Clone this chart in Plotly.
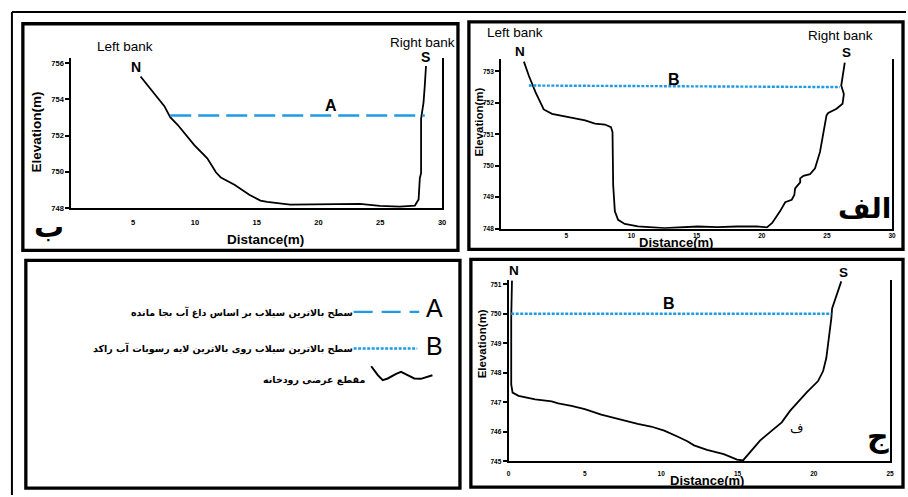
import plotly.graph_objects as go

W, H = 908, 497

# ---------------- data ----------------
# Panel "ب" cross-section
b_x = [5.6, 6.73, 7.53, 8.0, 8.6, 9.95, 11.0, 11.7, 12.1, 13.2, 14.4, 15.3, 15.85, 17.7, 19.9,
       23.35, 24.96, 26.57, 27.8, 28.1, 28.2, 28.3, 28.3, 28.4, 28.5, 28.6, 28.7]
b_y = [755.27, 754.30, 753.63, 753.02, 752.6, 751.47, 750.74, 749.97, 749.68, 749.28, 748.73,
       748.40, 748.33, 748.18, 748.18, 748.22, 748.11, 748.07, 748.13, 748.46, 749.64, 749.92,
       752.93, 753.3, 753.84, 754.76, 755.85]
b_flood_x = [8.0, 28.6]
b_flood_y = [753.11, 753.11]

# Panel "الف" cross-section
a_x = [1.75, 2.13, 2.64, 3.27, 3.91, 5.18, 6.45, 7.2, 7.97, 8.43, 8.55, 8.6, 8.73, 8.98, 9.49,
       10.5, 12.54, 15.08, 16.6, 18.1, 19.6, 20.4, 20.8, 21.4, 21.8, 22.3, 22.5, 22.56, 22.8,
       22.95, 22.95, 23.2, 23.7, 24.09, 24.47, 24.72, 24.97, 25.1, 25.74, 26.2, 26.3, 26.1,
       26.24, 26.37]
a_y = [753.31, 752.86, 752.34, 751.79, 751.65, 751.55, 751.44, 751.34, 751.31, 751.23, 751.07,
       749.39, 748.55, 748.28, 748.15, 748.07, 748.02, 748.07, 748.05, 748.07, 748.07, 748.04,
       748.18, 748.55, 748.84, 748.92, 749.07, 749.28, 749.42, 749.47, 749.6, 749.68, 749.73,
       749.92, 750.44, 751.07, 751.6, 751.68, 751.81, 751.97, 752.28, 752.55, 752.92, 753.28]
a_flood_x = [2.13, 26.0]
a_flood_y = [752.55, 752.50]

# Panel "ج" cross-section
c_x = [0.22, 0.17, 0.17, 0.26, 0.65, 1.74, 2.82, 3.25, 4.12, 4.99, 6.07, 7.16, 8.46, 9.33,
       10.2, 11.06, 11.71, 12.15, 13.0, 14.1, 14.97, 15.36, 15.84, 16.49, 17.25, 17.9, 18.44,
       18.87, 19.52, 20.28, 20.61, 20.82, 21.0, 21.15, 21.2, 21.35, 21.57, 21.8]
c_y = [751.14, 749.85, 747.61, 747.33, 747.22, 747.1, 747.03, 746.96, 746.88, 746.77, 746.58,
       746.43, 746.27, 746.18, 746.04, 745.84, 745.68, 745.54, 745.39, 745.24, 745.06, 745.03,
       745.31, 745.71, 746.04, 746.32, 746.71, 746.96, 747.33, 747.72, 748.06, 748.5, 749.18,
       749.85, 750.18, 750.41, 750.8, 751.1]
c_flood_x = [0.17, 21.15]
c_flood_y = [750.0, 750.0]

b_xticks = [5, 10, 15, 20, 25, 30]
b_yticks = [748, 750, 752, 754, 756]
a_xticks = [5, 10, 15, 20, 25, 30]
a_yticks = [748, 749, 750, 751, 752, 753]
c_xticks = [0, 5, 10, 15, 20, 25]
c_yticks = [745, 746, 747, 748, 749, 750, 751]

legend_a_text = "سطح بالاترین سیلاب بر اساس داغ آب بجا مانده"
legend_b_text = "سطح بالاترین سیلاب روی بالاترین لایه رسوبات آب راکد"
legend_c_text = "مقطع عرضی رودخانه"

# ---------------- helpers ----------------
def X(px):
    return px / W

def Y(py):
    return 1 - py / H

BLUE = "#1e9be4"
SANS = "Liberation Sans, Arial, sans-serif"
AR = "DejaVu Sans, sans-serif"

fig = go.Figure()

# profiles
fig.add_trace(go.Scatter(x=b_x, y=b_y, mode="lines", line=dict(color="black", width=1.8),
                         xaxis="x", yaxis="y", showlegend=False))
fig.add_trace(go.Scatter(x=b_flood_x, y=b_flood_y, mode="lines",
                         line=dict(color=BLUE, width=2.4, dash="21px,7px"),
                         xaxis="x", yaxis="y", showlegend=False))
fig.add_trace(go.Scatter(x=a_x, y=a_y, mode="lines", line=dict(color="black", width=1.8),
                         xaxis="x2", yaxis="y2", showlegend=False))
fig.add_trace(go.Scatter(x=a_flood_x, y=a_flood_y, mode="lines",
                         line=dict(color=BLUE, width=2.4, dash="3px,1.5px"),
                         xaxis="x2", yaxis="y2", showlegend=False))
fig.add_trace(go.Scatter(x=c_x, y=c_y, mode="lines", line=dict(color="black", width=1.8),
                         xaxis="x3", yaxis="y3", showlegend=False))
fig.add_trace(go.Scatter(x=c_flood_x, y=c_flood_y, mode="lines",
                         line=dict(color=BLUE, width=2.4, dash="3px,1.5px"),
                         xaxis="x3", yaxis="y3", showlegend=False))

tickf = dict(family=SANS, size=7.5, color="black", weight="bold")
tickf_s = dict(family=SANS, size=6.5, color="black", weight="bold")

def xax(domain, rng, tv, font, standoff):
    return dict(domain=domain, range=rng, tickvals=tv, ticks="", showgrid=False, zeroline=False,
                showline=True, linecolor="black", linewidth=2, tickfont=font,
                ticklabelstandoff=standoff, fixedrange=True)

def yax(domain, rng, tv, font, anchor):
    return dict(domain=domain, range=rng, tickvals=tv, ticks="outside", ticklen=4, tickwidth=1.5,
                tickcolor="black", showgrid=False, zeroline=False, showline=True,
                linecolor="black", linewidth=2, mirror=True, tickfont=font, anchor=anchor,
                fixedrange=True)

layout = dict(
    width=W, height=H, autosize=False,
    margin=dict(l=0, r=0, t=0, b=0),
    paper_bgcolor="white", plot_bgcolor="rgba(0,0,0,0)",
    xaxis=xax([X(69.8), X(443)], [0, 30], b_xticks, tickf, 6),
    yaxis=yax([Y(210), Y(59)], [748, 756.27], b_yticks, tickf, "x"),
    xaxis2=xax([X(502.4), X(896)], [0, 30], a_xticks, tickf_s, 0),
    yaxis2=yax([Y(231), Y(60)], [748, 753.38], a_yticks, tickf_s, "x2"),
    xaxis3=xax([X(510), X(894)], [0, 25], c_xticks, tickf_s, 5),
    yaxis3=yax([Y(466), Y(283.3)], [745, 751.13], c_yticks, tickf_s, "x3"),
)
layout["xaxis"]["anchor"] = "y"
layout["xaxis2"]["anchor"] = "y2"
layout["xaxis3"]["anchor"] = "y3"
fig.update_layout(**layout)

# ---------------- frames ----------------
shapes = []
def rect(x0, y0, x1, y1, w=3.3):
    shapes.append(dict(type="rect", xref="paper", yref="paper", x0=X(x0), x1=X(x1),
                       y0=Y(y1), y1=Y(y0), line=dict(color="black", width=w),
                       fillcolor="rgba(0,0,0,0)"))

shapes.append(dict(type="line", xref="paper", yref="paper", x0=X(10), x1=X(910), y0=Y(12), y1=Y(12),
                   line=dict(color="black", width=2)))
shapes.append(dict(type="line", xref="paper", yref="paper", x0=X(10), x1=X(10), y0=Y(12), y1=Y(500),
                   line=dict(color="black", width=2)))
rect(21, 24, 459, 253)
rect(470, 22, 907, 252)
rect(24, 263, 461, 493)
rect(472, 262, 907, 492)

# legend symbols
shapes.append(dict(type="line", xref="paper", yref="paper", x0=X(354), x1=X(420), y0=Y(315), y1=Y(315),
                   line=dict(color=BLUE, width=2.2, dash="19px,9px")))
shapes.append(dict(type="line", xref="paper", yref="paper", x0=X(354), x1=X(418), y0=Y(352), y1=Y(352),
                   line=dict(color=BLUE, width=2.6, dash="3px,1.5px")))
wave = [(371.7, 370), (378.3, 379), (383.3, 384), (388.3, 382.3), (396.7, 377.7), (401.7, 375.7),
        (408.3, 379), (415, 382.3), (421.7, 382.7), (433.3, 379)]
path = "M " + " L ".join(f"{X(px):.5f},{Y(py):.5f}" for px, py in wave)
shapes.append(dict(type="path", xref="paper", yref="paper", path=path,
                   line=dict(color="black", width=2)))
fig.update_layout(shapes=shapes)

# ---------------- texts ----------------
ann = []
def T(text, px, py, size, bold=False, family=SANS, angle=0, xanchor="center"):
    ann.append(dict(text=text, x=X(px), y=Y(py), xref="paper", yref="paper", showarrow=False,
                    xanchor=xanchor, yanchor="middle", textangle=angle, borderpad=0,
                    font=dict(family=family, size=size, color="black",
                              weight="bold" if bold else "normal")))

# panel ب
T("Left bank", 124, 47, 13.5)
T("Right bank", 423, 43, 13.5)
T("N", 135, 68, 14, True)
T("S", 426, 58, 14, True)
T("A", 331, 107, 16, True)
T("ب", 47, 229, 30, True, AR)
T("Elevation(m)", 35, 133, 13.5, True, angle=-90)
T("Distance(m)", 265, 242, 13.5, True)

# panel الف
T("Left bank", 516, 33, 13.5)
T("Right bank", 844, 36, 13.5)
T("N", 521, 52, 13.5, True)
T("S", 850, 53, 13.5, True)
T("B", 676, 80, 16, True)
T("الف", 868, 211, 28, True, AR)
T("Elevation(m)", 480, 123, 11.5, True, angle=-90)
T("Distance(m)", 678, 245, 13, True)

# panel ج
T("N", 515, 273, 13.5, True)
T("S", 847, 275, 13.5, True)
T("B", 671, 307, 16, True)
T("ف", 800, 433, 13, False, AR)
T("ج", 882, 441, 30, True, AR)
T("Elevation(m)", 483, 347, 11.5, True, angle=-90)
T("Distance(m)", 710, 485, 13, True)

# legend
T("A", 435, 311, 25)
T("B", 435, 350, 25)
T(legend_a_text, 354, 316, 9.5, True, AR, xanchor="right")
T(legend_b_text, 354, 352, 9.5, True, AR, xanchor="right")
T(legend_c_text, 366, 384, 9.5, True, AR, xanchor="right")

fig.update_layout(annotations=ann)
fig.write_html("out.html", config={"displayModeBar": False},
               post_script="document.body.style.margin='0';document.body.style.overflow='hidden';")
